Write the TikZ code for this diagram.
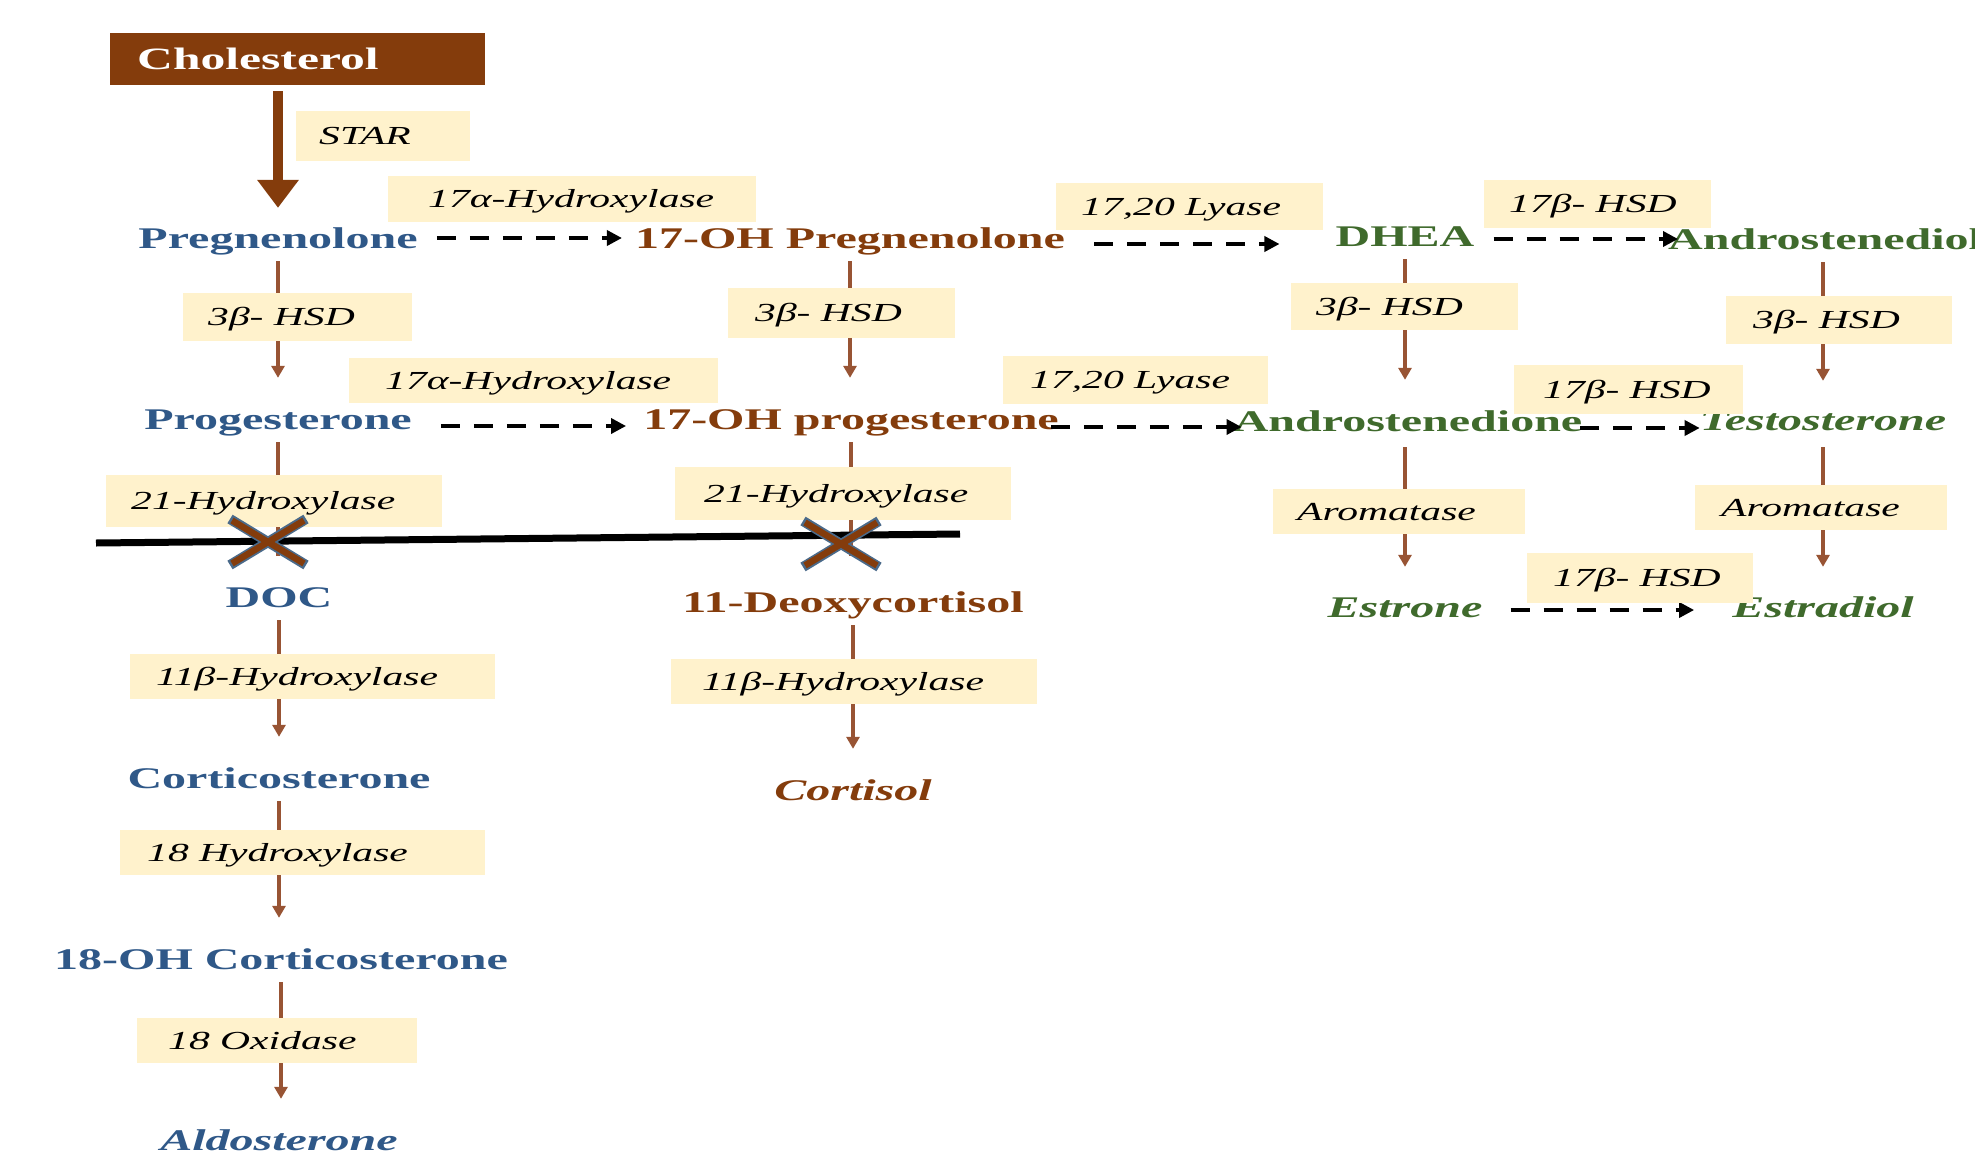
\documentclass[tikz,border=0pt]{standalone}
\usepackage{fontspec}
\setmainfont{Liberation Serif}[FakeStretch=1.6]
\usetikzlibrary{arrows.meta}
\definecolor{cblue}{HTML}{2F5888}
\definecolor{cbrown}{HTML}{843C0C}
\definecolor{cgreen}{HTML}{3F6A2C}
\definecolor{ccream}{HTML}{FFF2CC}
\definecolor{cline}{HTML}{985434}
\definecolor{xblue}{HTML}{4A6A8A}
\newcommand\enz[7]{%
  \fill[ccream] (#2,#3) rectangle (#4,#5);
  \node[enztxt, anchor=west] (#1) at (#6,{(#3+#5)/2}) {#7};}
\begin{document}
\begin{tikzpicture}[x=1pt,y=-1pt,
  cmp/.style={font=\fontsize{30}{36}\selectfont\bfseries, inner sep=0pt, text height=20pt, text depth=0pt},
  cmpi/.style={font=\fontsize{30}{36}\selectfont\bfseries\itshape, inner sep=0pt, text height=20pt, text depth=0pt},
  enztxt/.style={font=\fontsize{26}{30}\selectfont\itshape, inner sep=0pt, text height=17pt, text depth=0pt},
  conn/.style={draw=cline, line width=3.5pt, -{Triangle[width=13pt,length=12pt]}, shorten <=13pt, shorten >=31pt},
  connplain/.style={draw=cline, line width=3.5pt, shorten <=13pt},
  dash arrow/.style={draw=black, line width=3.5pt, dash pattern=on 19pt off 14pt, -{Triangle[width=15pt,length=15pt]}},
  xout/.style={draw=xblue, line width=10pt},
  xin/.style={draw=cbrown, line width=6.5pt}]
\useasboundingbox (0,0) rectangle (1975,1164);
\fill[white] (0,0) rectangle (1975,1164);
% Cholesterol
\node[fill=cbrown, text=white, font=\fontsize{31}{36}\selectfont\bfseries, anchor=north west,
  minimum width=375pt, minimum height=52pt, text width=321pt, inner xsep=27pt, align=left] (chol) at (110,33) {Cholesterol};
% compounds
\node[cmp, text=cblue] (preg) at (278,238) {Pregnenolone};
\node[cmp, text=cbrown] (ohpreg) at (850,238) {17-OH Pregnenolone};
\node[cmp, text=cgreen] (dhea) at (1405,236) {DHEA};
\node[cmp, text=cgreen, anchor=west] (andiol) at (1668,239) {Androstenediol};
\node[cmp, text=cblue] (prog) at (278,419) {Progesterone};
\node[cmp, text=cbrown] (ohprog) at (851,419) {17-OH progesterone};
\node[cmp, text=cgreen] (andione) at (1408,421) {Androstenedione};
\node[cmpi, text=cgreen] (testo) at (1823,420) {Testosterone};
\node[cmp, text=cblue] (doc) at (279,597) {DOC};
\node[cmp, text=cbrown] (deoxy) at (853,602) {11-Deoxycortisol};
\node[cmpi, text=cgreen] (estrone) at (1405,607) {Estrone};
\node[cmpi, text=cgreen] (estradiol) at (1823,607) {Estradiol};
\node[cmp, text=cblue] (cortico) at (279,778) {Corticosterone};
\node[cmp, text=cblue] (ohcort) at (281,959) {18-OH Corticosterone};
\node[cmpi, text=cblue] (aldo) at (279,1140) {Aldosterone};
\node[cmpi, text=cbrown] (cortisol) at (853,790) {Cortisol};
% thick arrow
\draw[draw=cbrown, line width=10pt, -{Triangle[width=40pt,length=28pt]}, shorten <=6pt, shorten >=20pt]
  (chol.south -| preg.north) -- (preg.north);
% vertical connectors
\draw[conn] (preg.south) -- (preg.south |- prog.north);
\draw[conn] (ohpreg.south) -- (ohpreg.south |- ohprog.north);
\draw[conn] (dhea.south) -- (dhea.south |- andione.north);
\draw[conn, shorten >=29pt] (andiol.south -| testo.north) -- (testo.north);
\coordinate (cut1) at (278,556);
\coordinate (cut2) at (851,556);
\draw[connplain] (prog.south) -- (cut1);
\draw[connplain] (ohprog.south) -- (cut2);
\draw[conn] (doc.south) -- (doc.south |- cortico.north);
\draw[conn] (cortico.south) -- (cortico.south |- ohcort.north);
\draw[conn] (ohcort.south) -- (ohcort.south |- aldo.north);
\draw[conn] (deoxy.south) -- (deoxy.south |- cortisol.north);
\draw[conn, shorten <=16pt, shorten >=30pt] (andione.south -| estrone.north) -- (estrone.north);
\draw[conn, shorten <=17pt, shorten >=30pt] (testo.south) -- (testo.south |- estradiol.north);
% dashed arrows
\draw[dash arrow, shorten <=19pt, shorten >=13pt] (preg.east) -- (preg.east -| ohpreg.west);
\draw[dash arrow, shorten <=29pt, shorten >=56pt] ([yshift=-6pt]ohpreg.east) -- ([yshift=-6pt]ohpreg.east -| dhea.west);
\draw[dash arrow, shorten <=19pt, shorten >=-10pt] ([yshift=-3pt]dhea.east) -- ([yshift=-3pt]dhea.east -| andiol.west);
\draw[dash arrow, shorten <=29pt, shorten >=17pt] ([yshift=-7pt]prog.east) -- ([yshift=-7pt]prog.east -| ohprog.west);
\draw[dash arrow, shorten <=-8pt, shorten >=-8pt] ([yshift=-8pt]ohprog.east) -- ([yshift=-8pt]ohprog.east -| andione.west);
\draw[dash arrow, shorten <=-2pt, shorten >=0pt] ([yshift=-7pt]andione.east) -- ([yshift=-7pt]andione.east -| testo.west);
\draw[dash arrow, shorten <=28pt, shorten >=38pt] ([yshift=-3pt]estrone.east) -- ([yshift=-3pt]estrone.east -| estradiol.west);
% blocking bar
\coordinate (barL) at (96,543);
\coordinate (barR) at (960,534);
\draw[line width=7pt] (barL) -- (barR);
% enzyme boxes
\enz{star}{296}{111}{470}{161}{319}{STAR}
\enz{hA}{388}{176}{756}{222}{428}{17α-Hydroxylase}
\enz{lyA}{1056}{183}{1323}{230}{1081}{17,20 Lyase}
\enz{hsdA}{1484}{180}{1711}{228}{1509}{17β- HSD}
\enz{tA}{183}{293}{412}{341}{208}{3β- HSD}
\enz{tB}{728}{288}{955}{338}{755}{3β- HSD}
\enz{tC}{1291}{283}{1518}{330}{1316}{3β- HSD}
\enz{tD}{1726}{296}{1952}{344}{1753}{3β- HSD}
\enz{hB}{349}{358}{718}{403}{385}{17α-Hydroxylase}
\enz{lyB}{1003}{356}{1268}{404}{1030}{17,20 Lyase}
\enz{hsdB}{1514}{365}{1743}{414}{1543}{17β- HSD}
\enz{wA}{106}{475}{442}{527}{131}{21-Hydroxylase}
\enz{wB}{675}{467}{1011}{520}{704}{21-Hydroxylase}
\enz{aroA}{1273}{489}{1525}{534}{1297}{Aromatase}
\enz{aroB}{1695}{485}{1947}{530}{1721}{Aromatase}
\enz{hsdC}{1527}{553}{1753}{603}{1553}{17β- HSD}
\enz{eA}{130}{654}{495}{699}{156}{11β-Hydroxylase}
\enz{eB}{671}{659}{1037}{704}{702}{11β-Hydroxylase}
\enz{oA}{120}{830}{485}{875}{147}{18 Hydroxylase}
\enz{oB}{137}{1018}{417}{1063}{168}{18 Oxidase}
% X marks
\coordinate (X1) at (268,542);
\coordinate (X2) at (841,544);
\foreach \c in {X1,X2}{
  \draw[xout, shift={(\c)}] (-38,-23) -- (38,23) (-38,23) -- (38,-23);
  \draw[xin, shift={(\c)}] (-36,-21.5) -- (36,21.5) (-36,21.5) -- (36,-21.5);
}
\end{tikzpicture}
\end{document}
